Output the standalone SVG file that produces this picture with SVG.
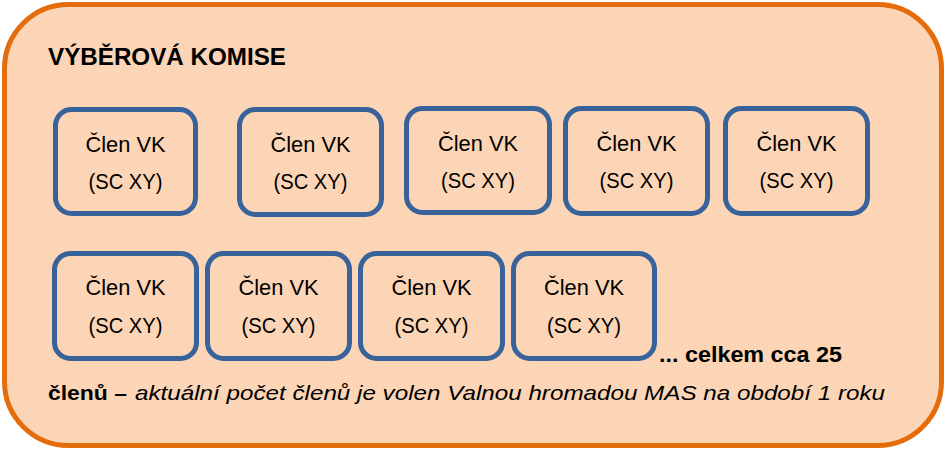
<svg xmlns="http://www.w3.org/2000/svg" width="946" height="451" viewBox="0 0 946 451">
<style>
.frame{fill:#FBD5B5;stroke:#E46C0A;stroke-width:5}
.box{fill:none;stroke:#38629A;stroke-width:5}
.t{font-family:"Liberation Sans",Arial,sans-serif;font-size:22px;fill:#000;text-anchor:middle}
.b{font-family:"Liberation Sans",Arial,sans-serif;font-weight:bold;fill:#000}
.i{font-family:"Liberation Sans",Arial,sans-serif;font-style:italic;fill:#000}
</style>
<rect class="frame" x="4.5" y="4.5" width="937" height="441" rx="64" ry="64"/>
<text class="b" x="48" y="65" font-size="23" textLength="238" lengthAdjust="spacingAndGlyphs">VÝBĚROVÁ KOMISE</text>
<g id="n1"><rect class="box" x="55.5" y="109.5" width="140" height="104" rx="16"/><text class="t" x="125.5" y="152" textLength="80" lengthAdjust="spacingAndGlyphs">Člen VK</text><text class="t" x="125.5" y="189" textLength="74" lengthAdjust="spacingAndGlyphs">(SC XY)</text></g>
<g id="n2"><rect class="box" x="239.5" y="109.5" width="142" height="105" rx="16"/><text class="t" x="310.5" y="152" textLength="80" lengthAdjust="spacingAndGlyphs">Člen VK</text><text class="t" x="310.5" y="189" textLength="74" lengthAdjust="spacingAndGlyphs">(SC XY)</text></g>
<g id="n3"><rect class="box" x="406.5" y="108.5" width="143" height="104" rx="16"/><text class="t" x="478" y="151" textLength="80" lengthAdjust="spacingAndGlyphs">Člen VK</text><text class="t" x="478" y="188" textLength="74" lengthAdjust="spacingAndGlyphs">(SC XY)</text></g>
<g id="n4"><rect class="box" x="565.5" y="108.5" width="142" height="105" rx="16"/><text class="t" x="636.5" y="151" textLength="80" lengthAdjust="spacingAndGlyphs">Člen VK</text><text class="t" x="636.5" y="188" textLength="74" lengthAdjust="spacingAndGlyphs">(SC XY)</text></g>
<g id="n5"><rect class="box" x="725.5" y="108.5" width="142" height="105" rx="16"/><text class="t" x="796.5" y="151" textLength="80" lengthAdjust="spacingAndGlyphs">Člen VK</text><text class="t" x="796.5" y="188" textLength="74" lengthAdjust="spacingAndGlyphs">(SC XY)</text></g>
<g id="n6"><rect class="box" x="54.5" y="253.5" width="142" height="105" rx="16"/><text class="t" x="125.5" y="295" textLength="80" lengthAdjust="spacingAndGlyphs">Člen VK</text><text class="t" x="125.5" y="333" textLength="74" lengthAdjust="spacingAndGlyphs">(SC XY)</text></g>
<g id="n7"><rect class="box" x="207.5" y="253.5" width="142" height="105" rx="16"/><text class="t" x="278.5" y="295" textLength="80" lengthAdjust="spacingAndGlyphs">Člen VK</text><text class="t" x="278.5" y="333" textLength="74" lengthAdjust="spacingAndGlyphs">(SC XY)</text></g>
<g id="n8"><rect class="box" x="360.5" y="253.5" width="142" height="105" rx="16"/><text class="t" x="431.5" y="295" textLength="80" lengthAdjust="spacingAndGlyphs">Člen VK</text><text class="t" x="431.5" y="333" textLength="74" lengthAdjust="spacingAndGlyphs">(SC XY)</text></g>
<g id="n9"><rect class="box" x="513.5" y="253.5" width="141" height="105" rx="16"/><text class="t" x="584" y="295" textLength="80" lengthAdjust="spacingAndGlyphs">Člen VK</text><text class="t" x="584" y="333" textLength="74" lengthAdjust="spacingAndGlyphs">(SC XY)</text></g>
<g id="connectors"/>
<text class="b" x="659" y="362" font-size="22" textLength="183" lengthAdjust="spacingAndGlyphs">... celkem cca 25</text>
<text class="b" x="48" y="400" font-size="21" textLength="79" lengthAdjust="spacingAndGlyphs">členů –</text>
<text class="i" x="135" y="400" font-size="21" textLength="750" lengthAdjust="spacingAndGlyphs">aktuální počet členů je volen Valnou hromadou MAS na období 1 roku</text>
</svg>
